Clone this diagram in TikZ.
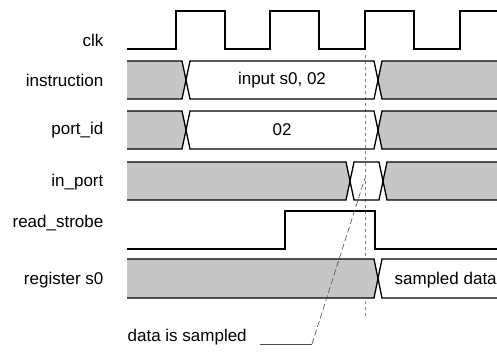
\documentclass[tikz,border=0pt]{standalone}
\usepackage{fontspec}
\setmainfont{Liberation Sans}
\usepackage{xcolor}
\usetikzlibrary{positioning}

\begin{document}
\begin{tikzpicture}[x=1pt, y=-1pt, line width=1.3pt,
  siglabel/.style={font=\fontsize{17}{20}\selectfont, anchor=east, inner sep=0pt},
  buslabel/.style={font=\fontsize{17}{20}\selectfont, inner sep=0pt},
  busfill/.style={fill=gray!45},
  annot/.style={line width=0.6pt, gray!60!black}]
\useasboundingbox (0,0) rectangle (497,357);
% sampling instant
\draw[line width=0.5pt, gray, dashed] (365,55) -- (365,318);
% signal names
\node[siglabel] (clk) at (104,40) {clk};
\node[siglabel] (instr) at (104,80) {instruction};
\node[siglabel] (portid) at (104,130) {port\_id};
\node[siglabel] (inport) at (104,182) {in\_port};
\node[siglabel] (strobe) at (104,223) {read\_strobe};
\node[siglabel] (reg) at (104,280) {register s0};
% clk
\draw (127,49) \foreach \t in {176,270,365} {-- (\t,49) -- (\t,11) -- (\t+49,11) -- (\t+49,49)}
  -- (460,49) -- (460,11) -- (497,11);
% instruction and port_id
\foreach \y in {61,111} {
  \fill[busfill] (127,\y) -- (182,\y) -- (186,\y+19) -- (182,\y+38) -- (127,\y+38) -- cycle;
  \fill[busfill] (497,\y) -- (382,\y) -- (378,\y+19) -- (382,\y+38) -- (497,\y+38) -- cycle;
  \draw (127,\y) -- (182,\y) -- (190,\y+38) -- (374,\y+38) -- (382,\y) -- (497,\y);
  \draw (127,\y+38) -- (182,\y+38) -- (190,\y) -- (374,\y) -- (382,\y+38) -- (497,\y+38);
}
\node[buslabel] (instrval) at (282,80) {input s0, 02};
\node[buslabel] (portval) at (282,130) {02};
% in_port
\fill[busfill] (127,162) -- (346,162) -- (350,181) -- (346,200) -- (127,200) -- cycle;
\fill[busfill] (497,162) -- (387,162) -- (383,181) -- (387,200) -- (497,200) -- cycle;
\draw (127,162) -- (346,162) -- (354,200) -- (379,200) -- (387,162) -- (497,162);
\draw (127,200) -- (346,200) -- (354,162) -- (379,162) -- (387,200) -- (497,200);
% read_strobe
\draw (127,249) -- (285,249) -- (285,211) -- (375,211) -- (375,249) -- (497,249);
% register s0
\fill[busfill] (127,259) -- (374,259) -- (378,278) -- (374,298) -- (127,298) -- cycle;
\draw (127,259) -- (374,259) -- (382,298) -- (497,298);
\draw (127,298) -- (374,298) -- (382,259) -- (497,259);
\node[buslabel, anchor=west] (regval) at (394,280) {sampled data};
% note
\node[buslabel, anchor=west] (note) at (127,337) {data is sampled};
\coordinate (kink) at (312,344);
\coordinate (sample) at (365,178);
\draw[annot] (260,344) -- (kink);
\draw[annot, dash pattern=on 6pt off 3pt] (kink) -- (sample);
\end{tikzpicture}
\end{document}
